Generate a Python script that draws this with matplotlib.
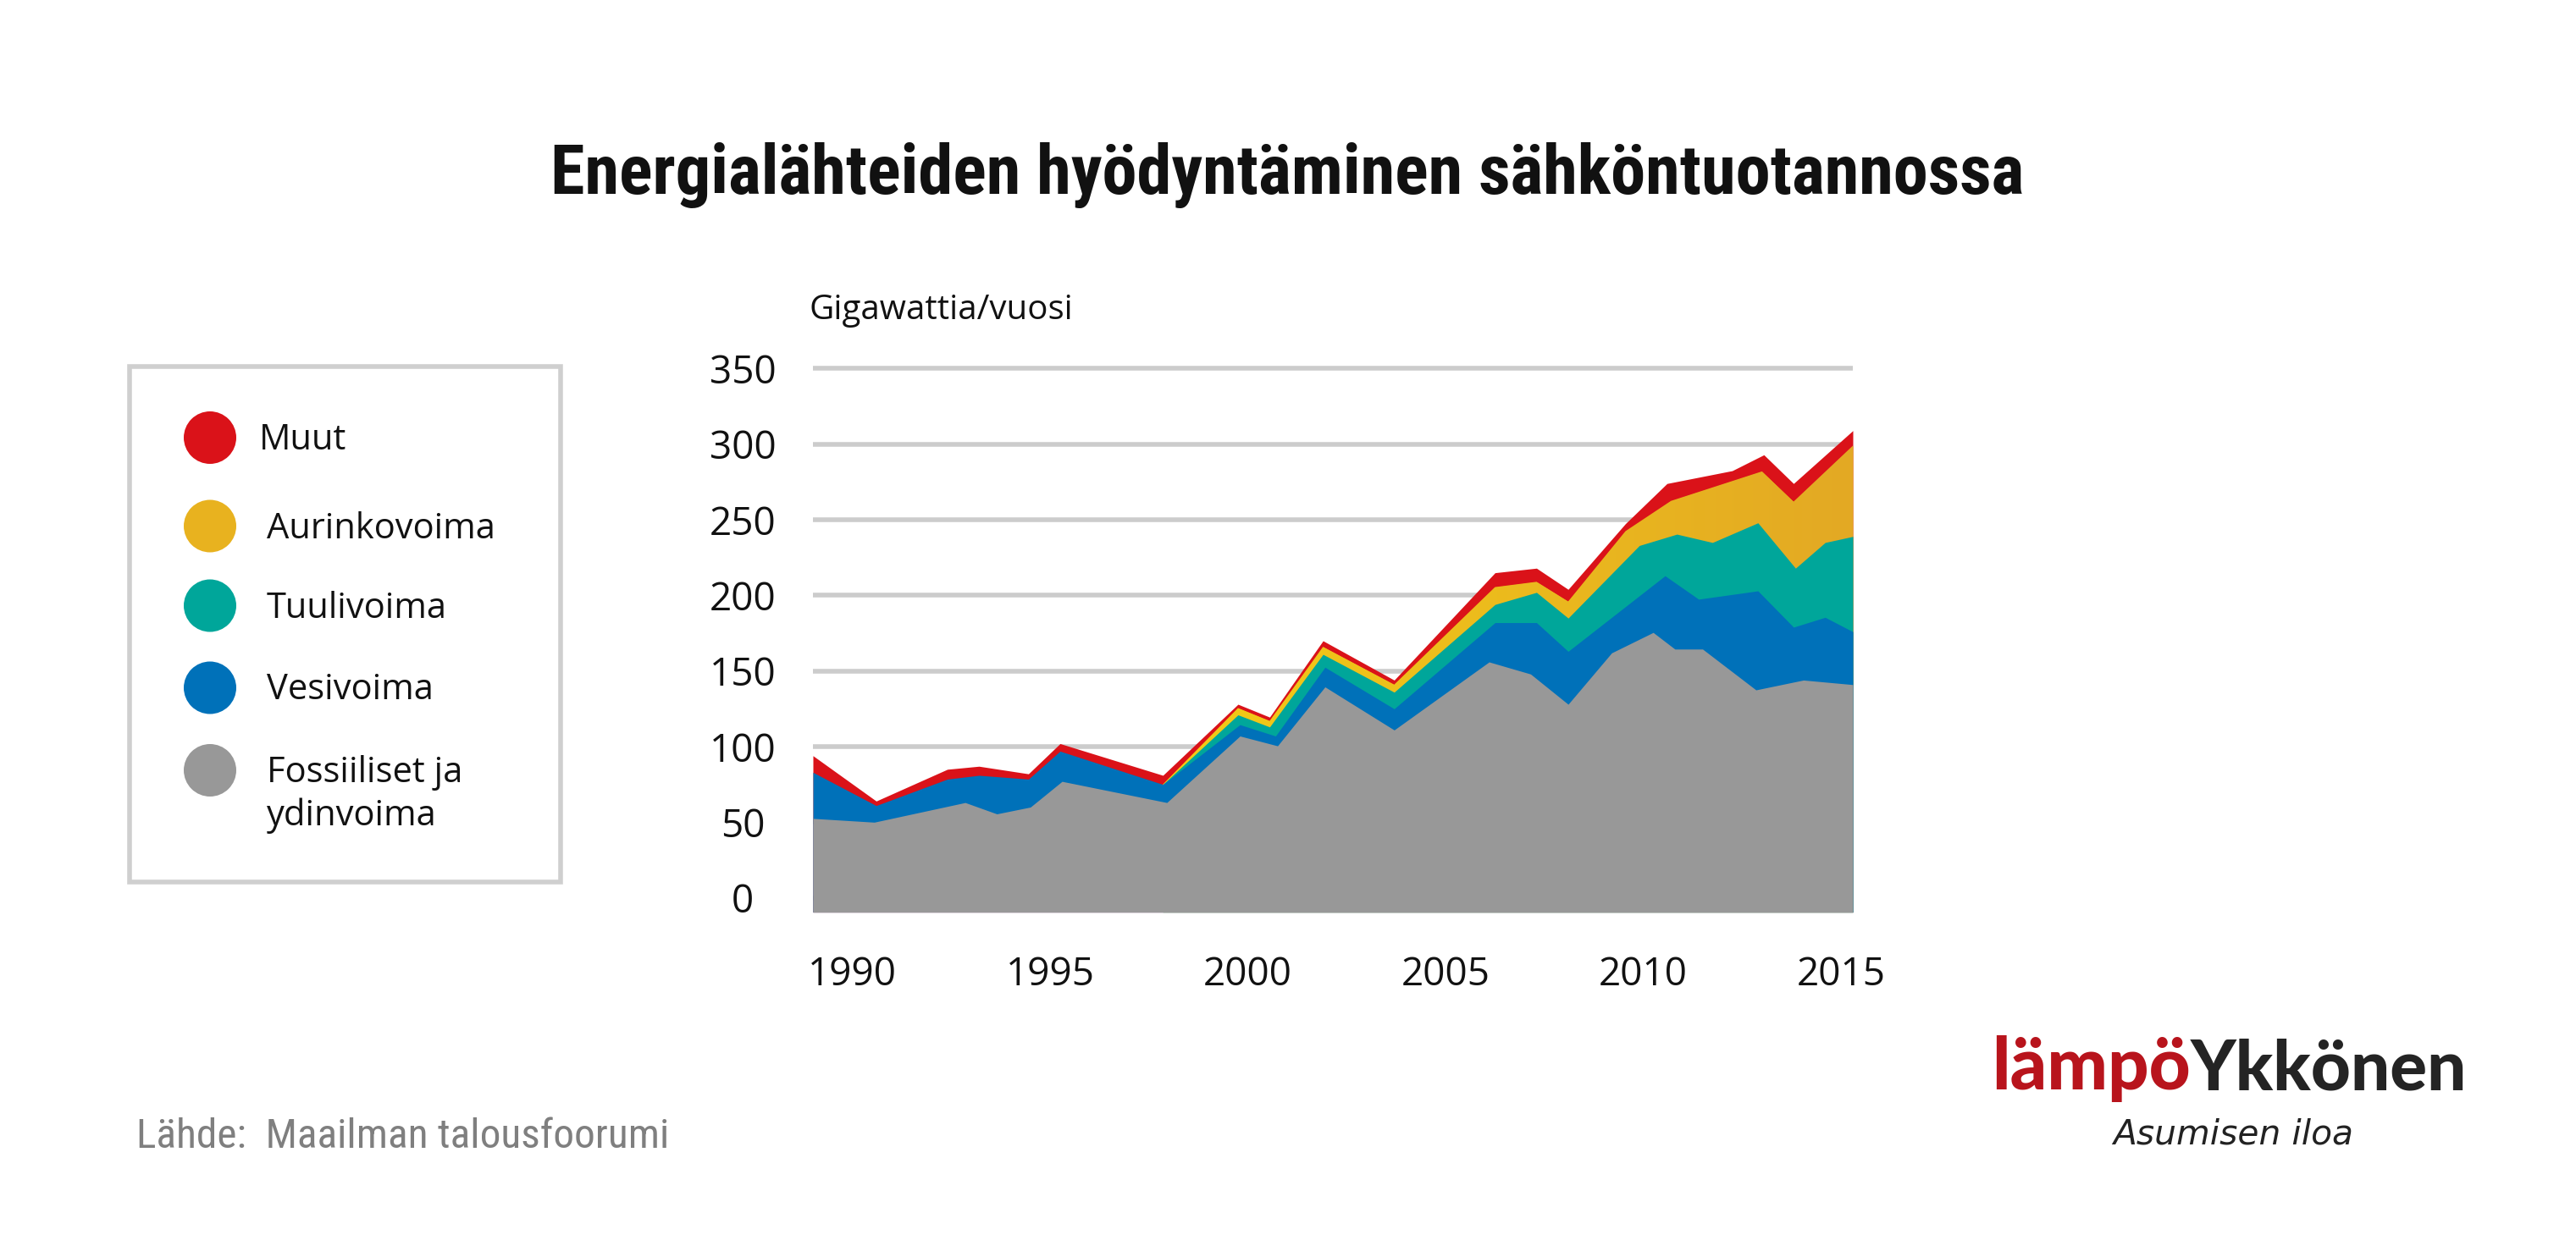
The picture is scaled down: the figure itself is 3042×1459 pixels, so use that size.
import matplotlib
matplotlib.use("Agg")
import matplotlib.pyplot as plt
from matplotlib.patches import Rectangle, Ellipse
from matplotlib.colors import LinearSegmentedColormap
import numpy as np

W, H, DPI = 3042, 1459, 100

title = "Energialähteiden hyödyntäminen sähköntuotannossa"
unit_label = "Gigawattia/vuosi"
source = "Lähde:  Maailman talousfoorumi"
logo_red = "lämpö"
logo_black = "Ykkönen"
tagline = "Asumisen iloa"

labels = ["Muut", "Aurinkovoima", "Tuulivoima", "Vesivoima", "Fossiiliset ja\nydinvoima"]
colors = ["#da1219", "#e8b21f", "#00a69a", "#0071b9", "#989898"]

y_ticks = [0, 50, 100, 150, 200, 250, 300, 350]
x_ticks = [1990, 1995, 2000, 2005, 2010, 2015]

# top edge of each stacked band (year, GW/vuosi)
muut_years = [1989.0, 1990.6, 1992.4, 1993.2, 1994.45, 1995.25, 1997.85, 1999.75, 2000.55,
              2001.9, 2003.7, 2006.25, 2007.3, 2008.1, 2009.55, 2010.6, 2012.25, 2013.05,
              2013.8, 2015.3]
muut_top = [94, 64, 85, 87, 82, 102, 81, 128, 119.5, 170, 144, 215, 218, 204, 247.5, 274,
            282.5, 293, 274, 309]

aurinko_years = [1997.85, 1999.75, 2000.55, 2001.9, 2003.7, 2006.25, 2007.3, 2008.1, 2009.55,
                 2010.7, 2013.0, 2013.8, 2015.3]
aurinko_top = [75, 125.5, 117, 166, 141, 205.5, 209, 196, 242.5, 262.5, 282, 262, 299]

tuuli_years = [1997.85, 1999.75, 2000.55, 2001.9, 2003.7, 2006.25, 2007.3, 2008.1, 2009.9,
               2010.85, 2011.75, 2012.9, 2013.85, 2014.6, 2015.3]
tuuli_top = [75, 121, 113, 161, 136, 194, 202, 185, 233, 240.5, 235, 248, 218, 235, 239]

vesi_years = [1989.0, 1990.6, 1992.4, 1993.2, 1994.45, 1995.25, 1997.85, 1999.8, 2000.7,
              2001.95, 2003.7, 2006.25, 2007.3, 2008.1, 2010.55, 2011.4, 2012.9, 2013.8,
              2014.6, 2015.3]
vesi_top = [83, 61, 78.5, 81, 78.5, 97, 75, 114.5, 107, 152.5, 125, 182, 182, 163, 213, 197.5,
            203, 179, 185.5, 176]

fossiili_years = [1989.0, 1990.55, 1992.85, 1993.65, 1994.5, 1995.3, 1997.95, 1999.8, 2000.75,
                  2001.95, 2003.7, 2006.1, 2007.15, 2008.1, 2009.2, 2010.25, 2010.8, 2011.5,
                  2012.85, 2014.05, 2015.3]
fossiili_top = [52.5, 50, 63, 55.5, 60, 77, 63, 107, 100.5, 139.5, 111, 156, 148, 128, 162,
                175.5, 164.5, 164.5, 137.5, 144, 141]

BASE = -9.5  # the grey area runs a little below zero


def fx(px):
    return px / W


def fy(py):
    return 1 - py / H


fig = plt.figure(figsize=(W / DPI, H / DPI), dpi=DPI)
fig.patch.set_facecolor("white")

ax = fig.add_axes([fx(960), fy(1077.6), (2188 - 960) / W, (1077.6 - 431.9) / H])

bands = [(muut_years, muut_top), (aurinko_years, aurinko_top), (tuuli_years, tuuli_top),
         (vesi_years, vesi_top), (fossiili_years, fossiili_top)]
# painted from the top band down, each from the bottom, like the original
for i, ((yrs, top), col) in enumerate(zip(bands, colors)):
    poly = ax.fill_between(yrs, BASE, top, color=col, lw=0, zorder=2 + i)
    if i == 1:
        # solar band fades from bright yellow to amber
        cmap = LinearSegmentedColormap.from_list("sun", ["#f4cc16", "#e3a924"])
        grad = np.linspace(0, 1, 256).reshape(1, -1)
        img = ax.imshow(grad, cmap=cmap, aspect="auto", extent=[1997.85, 2015.3, BASE, 352],
                        zorder=2 + i + 0.5)
        img.set_clip_path(poly.get_paths()[0], transform=ax.transData)

ax.set_xlim(1989.0, 2015.3)
ax.set_ylim(BASE, 352)
ax.set_yticks(y_ticks, [str(v) for v in y_ticks], ha="center", fontfamily="Open Sans",
              fontsize=33, color="#111111")
ax.set_xticks(x_ticks, [str(v) for v in x_ticks], fontfamily="Open Sans", fontsize=33,
              color="#111111")
ax.tick_params(axis="y", length=0, pad=59.8)
ax.tick_params(axis="x", length=0, pad=37)
ax.grid(axis="y", color="#cccccc", lw=4, zorder=0)
ax.set_axisbelow(True)
for s in ax.spines.values():
    s.set_visible(False)

renderer = fig.canvas.get_renderer()


def fit_width(txt, target_px):
    w = txt.get_window_extent(renderer).width
    txt.set_fontsize(txt.get_fontsize() * target_px / w)


narrow = ["Liberation Sans Narrow", "Roboto Condensed", "DejaVu Sans Condensed",
          "Liberation Sans"]

t = fig.text(fx(1520), fy(229), title, ha="center", va="baseline", fontsize=50,
             fontweight="bold", family=narrow, color="#111111")
fit_width(t, 1742)

fig.text(fx(955), fy(377), unit_label, ha="left", va="baseline", fontsize=29,
         family="Open Sans", color="#111111")

s = fig.text(fx(161), fy(1356), source, ha="left", va="baseline", fontsize=32,
             family=narrow, color="#7f7f7f")
fit_width(s, 631)

# legend box
fig.add_artist(Rectangle((fx(153), fy(1042)), (662 - 153) / W, (1042 - 433) / H,
                         transform=fig.transFigure, fill=False, ec="#cfcfcf", lw=4))
legend_y = [517, 621.5, 715.5, 812.5, 910]
for i, (lab, col, yc) in enumerate(zip(labels, colors, legend_y)):
    fig.add_artist(Ellipse((fx(248), fy(yc)), 62 / W, 62 / H, transform=fig.transFigure,
                           color=col, lw=0))
    tx = 306 if i == 0 else 315
    for j, line in enumerate(lab.split("\n")):
        fig.text(fx(tx), fy(yc + 14 + 51 * j), line, ha="left", va="baseline", fontsize=30,
                 family="Open Sans", color="#111111")

# logo
lr = fig.text(fx(2352), fy(1287), logo_red, ha="left", va="baseline", fontsize=60,
              family=["Lato", "DejaVu Sans"], fontweight="black", color="#b8141c")
fit_width(lr, 235)
lb = fig.text(fx(2913), fy(1287), logo_black, ha="right", va="baseline", fontsize=60,
              family=["Lato", "DejaVu Sans"], fontweight="black", color="#242424")
fit_width(lb, 326)
tg = fig.text(fx(2637), fy(1352), tagline, ha="center", va="baseline", fontsize=28,
              family="DejaVu Sans", style="italic", color="#222222")
fit_width(tg, 283)

fig.savefig("out.png", dpi=DPI, facecolor="white")
